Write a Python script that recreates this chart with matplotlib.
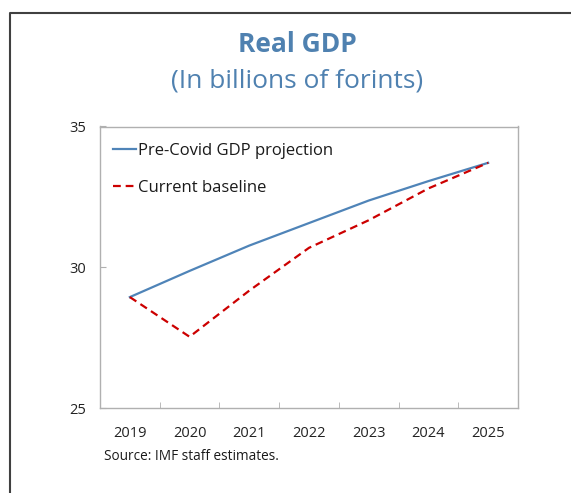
import matplotlib
matplotlib.use("Agg")
import matplotlib.pyplot as plt
from matplotlib.lines import Line2D

# data
years = ["2019", "2020", "2021", "2022", "2023", "2024", "2025"]
pre_covid = [28.94, 29.87, 30.77, 31.57, 32.37, 33.06, 33.71]
baseline = [28.94, 27.53, 29.17, 30.69, 31.67, 32.80, 33.71]
y_ticks = [25, 30, 35]

plt.rcParams["font.family"] = ["Open Sans", "DejaVu Sans"]

fig = plt.figure(figsize=(5.71, 4.93), dpi=100)
ax = fig.add_axes([100 / 571, 1 - 408 / 493, 418 / 571, 281.5 / 493])

x = list(range(len(years)))
ax.plot(x, pre_covid, color="#4f84b8", lw=1.6, label="Pre-Covid GDP projection")
ax.plot(x, baseline, color="#cc0000", lw=1.6, ls=(0, (3.5, 2.2)), label="Current baseline")

ax.set_xlim(-0.5, len(years) - 0.5)
ax.set_ylim(25, 35)
ax.set_yticks(y_ticks)
ax.set_xticks(x)
ax.set_xticklabels(years)
ax.set_xticks([i + 0.5 for i in x[:-1]], minor=True)
ax.tick_params(axis="x", which="major", length=0, pad=13, labelsize=10.5, colors="#222222")
ax.tick_params(axis="x", which="minor", length=4, direction="in", color="#b0b0b0")
ax.tick_params(axis="y", length=4, direction="in", color="#b0b0b0", pad=10, labelsize=10.5, labelcolor="#222222")
for s in ax.spines.values():
    s.set_color("#b0b0b0")
    s.set_linewidth(1.0)

leg = ax.legend(loc="upper left", frameon=False, fontsize=12, handlelength=1.4,
                handletextpad=0.1, labelspacing=1.25, borderaxespad=0.0,
                bbox_to_anchor=(0.015, 0.965))
for t in leg.get_texts():
    t.set_color("#1a1a1a")

fig.text(0.52, 1 - 45 / 493, "Real GDP", ha="center", va="center",
         fontsize=19, fontweight="bold", color="#4f81b0")
fig.text(0.52, 1 - 81 / 493, "(In billions of forints)", ha="center", va="center",
         fontsize=19, color="#4f81b0")
fig.text(104 / 571, 1 - 456 / 493, "Source: IMF staff estimates.", ha="left", va="center",
         fontsize=9.8, color="#1a1a1a")

# frame around the panel (top and left edges visible)
fy = 1 - 13 / 493
fx = 10 / 571
fig.add_artist(Line2D([fx, fx, 1.0], [0.0, fy, fy], transform=fig.transFigure,
                      color="#404040", lw=1.5))

fig.savefig("out.png", dpi=100)
